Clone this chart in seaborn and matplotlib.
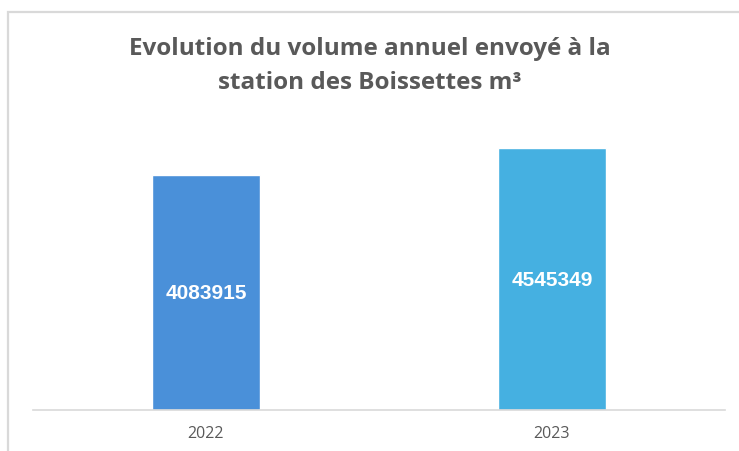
import matplotlib
matplotlib.use("Agg")
import matplotlib.pyplot as plt
from matplotlib.patches import Rectangle
import seaborn as sns
import pandas as pd

years = ["2022", "2023"]
volumes = [4083915, 4545349]
bar_colors = ["#4A90D9", "#45B0E1"]
title = "Evolution du volume annuel envoyé à la\nstation des Boissettes m³"

sns.set_theme(style="white")
plt.rcParams["font.family"] = ["Open Sans", "DejaVu Sans"]

W, H = 739, 452
fig = plt.figure(figsize=(W / 100, H / 100), dpi=100)
fig.patch.set_facecolor("white")

# chart frame (light grey border)
fig.patches.append(Rectangle((8 / W, -0.1), 1.2, (H - 13) / H + 0.1,
                             transform=fig.transFigure, fill=False,
                             edgecolor="#d9d9d9", linewidth=1.6))

ax = fig.add_axes([33 / W, 41 / H, 692 / W, 287.7 / H])
df = pd.DataFrame({"year": years, "volume": volumes})
sns.barplot(data=df, x="year", y="volume", hue="year", palette=bar_colors,
            width=0.315, legend=False, ax=ax, saturation=1)
ax.set_ylim(0, 5.0e6)
ax.set_xlim(-0.5, 1.5)

for i, v in enumerate(volumes):
    ax.text(i, v / 2, f"{v}", ha="center", va="center", color="white",
            fontsize=15, fontweight="bold", family="Liberation Sans")

for s in ["top", "right", "left"]:
    ax.spines[s].set_visible(False)
ax.spines["bottom"].set_color("#d9d9d9")
ax.spines["bottom"].set_linewidth(1.2)
ax.set_yticks([])
ax.set_xlabel("")
ax.set_ylabel("")
ax.tick_params(axis="x", length=0, pad=11, labelsize=11.5, labelcolor="#595959")

fig.text(0.5, 1 - 66 / H, title, ha="center", va="center", fontsize=17.5,
         fontweight="bold", color="#595959", linespacing=1.55)

fig.savefig("out.png", dpi=100, facecolor="white")
